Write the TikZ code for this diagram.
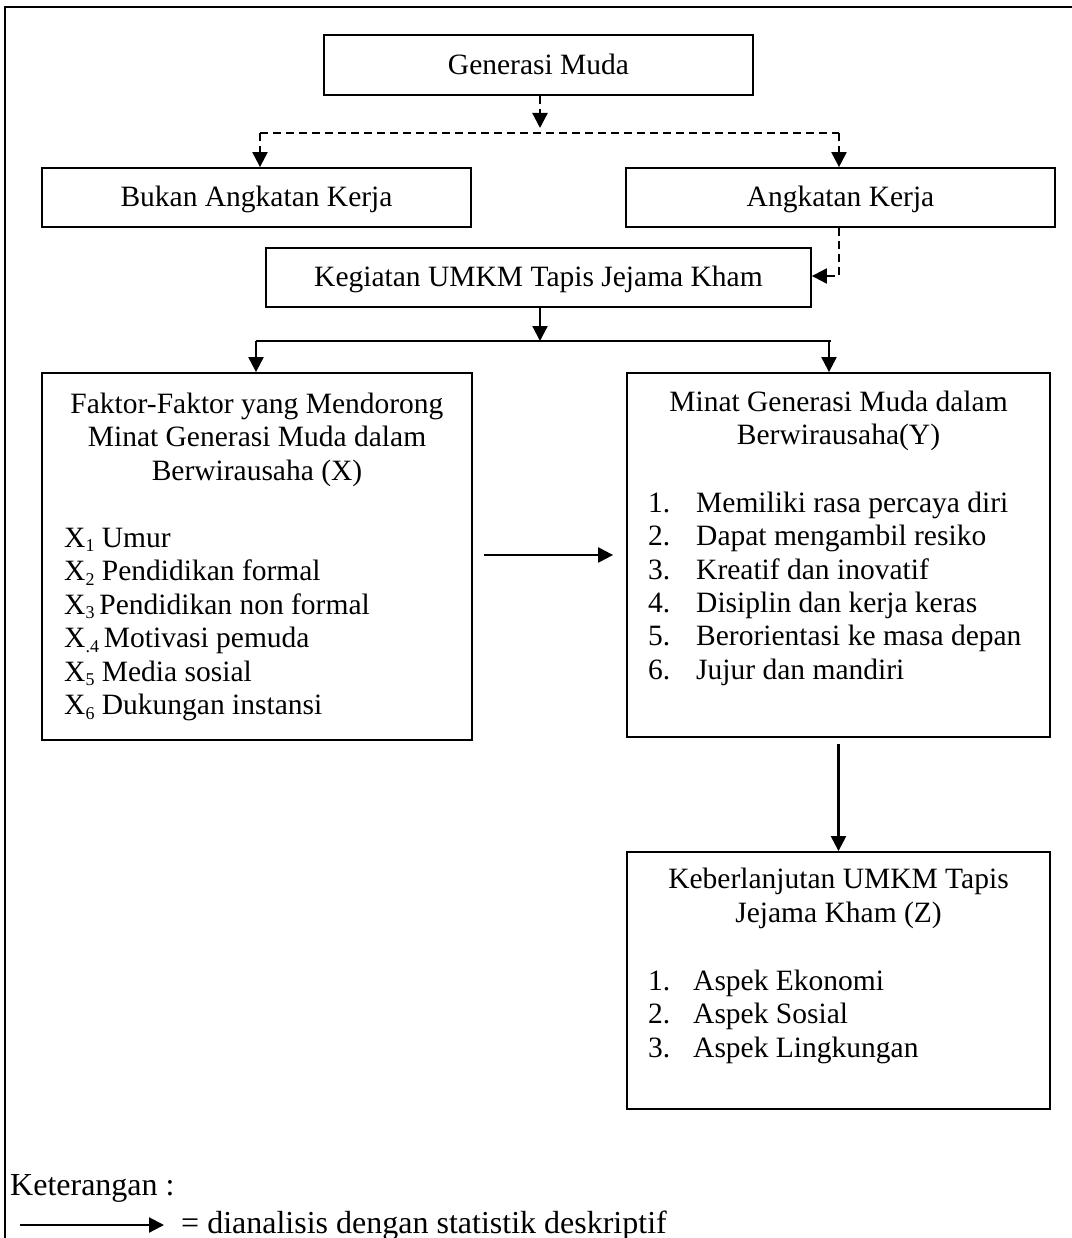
\documentclass[tikz,border=0pt]{standalone}
\usepackage{fontspec}
\setmainfont{Liberation Serif}
\usetikzlibrary{arrows.meta}
\newcommand\mysub[1]{\raisebox{-0.16em}{\fontsize{18}{18}\selectfont #1}}
\begin{document}
\begin{tikzpicture}[x=1pt,y=-1pt,
  box/.style={draw, line width=1.8pt, inner sep=0pt},
  sbox/.style={box, font=\fontsize{29.5}{33}\selectfont, text height=25pt, text depth=6pt},
  lbl/.style={inner sep=0pt, font=\fontsize{29.5}{33}\selectfont},
  leg/.style={inner sep=0pt, font=\fontsize{32}{36}\selectfont},
  conn/.style={line width=2.2pt},
  arr/.style={conn, -{Triangle[width=15pt,length=15pt]}},
  dsh/.style={dash pattern=on 8pt off 5pt},
]
\useasboundingbox (0,0) rectangle (1071,1238);

% outer frame (cut by the page at right and bottom)
\draw[line width=1.8pt] (1080,7) -- (5,7) -- (5,1245);

% simple boxes
\node[sbox, minimum width=429pt, minimum height=60pt] (gm)  at (538.5,65)    {Generasi Muda};
\node[sbox, minimum width=429pt, minimum height=59pt] (bak) at (256.5,197.5) {Bukan Angkatan Kerja};
\node[sbox, minimum width=429pt, minimum height=59pt] (ak)  at (840.5,197.5) {Angkatan Kerja};
\node[sbox, minimum width=545pt, minimum height=59pt] (keg) at (538.5,277.5) {Kegiatan UMKM Tapis Jejama Kham};

% list boxes
\node[box, minimum width=430pt, minimum height=367pt] (fak) at (257,556.5) {};
\node[box, minimum width=423pt, minimum height=364pt] (min) at (838.5,555) {};
\node[box, minimum width=423pt, minimum height=257pt] (keb) at (838.5,980.5) {};

% Faktor box text
\node[lbl, anchor=base] (fh1) at (257,413)   {Faktor-Faktor yang Mendorong};
\node[lbl, anchor=base] (fh2) at (257,446.5) {Minat Generasi Muda dalam};
\node[lbl, anchor=base] (fh3) at (257,480)   {Berwirausaha (X)};
\node[lbl, anchor=base west] (fx1) at (64,547)   {X\mysub{1} Umur};
\node[lbl, anchor=base west] (fx2) at (64,580.5) {X\mysub{2} Pendidikan formal};
\node[lbl, anchor=base west] (fx3) at (64,614)   {X\mysub{3}\,Pendidikan non formal};
\node[lbl, anchor=base west] (fx4) at (64,647.5) {X\mysub{.4}\,Motivasi pemuda};
\node[lbl, anchor=base west] (fx5) at (64,681)   {X\mysub{5} Media sosial};
\node[lbl, anchor=base west] (fx6) at (64,714.5) {X\mysub{6} Dukungan instansi};

% Minat box text
\node[lbl, anchor=base] (mh1) at (838.5,411) {Minat Generasi Muda dalam};
\node[lbl, anchor=base] (mh2) at (838.5,444) {Berwirausaha(Y)};
\node[lbl, anchor=base west] (mn1) at (648,512)   {1.};
\node[lbl, anchor=base west] (mn2) at (648,545.5) {2.};
\node[lbl, anchor=base west] (mn3) at (648,579)   {3.};
\node[lbl, anchor=base west] (mn4) at (648,612)   {4.};
\node[lbl, anchor=base west] (mn5) at (648,645.5) {5.};
\node[lbl, anchor=base west] (mn6) at (648,679)   {6.};
\node[lbl, anchor=base west] (mt1) at (696,512)   {Memiliki rasa percaya diri};
\node[lbl, anchor=base west] (mt2) at (696,545.5) {Dapat mengambil resiko};
\node[lbl, anchor=base west] (mt3) at (696,579)   {Kreatif dan inovatif};
\node[lbl, anchor=base west] (mt4) at (696,612)   {Disiplin dan kerja keras};
\node[lbl, anchor=base west] (mt5) at (696,645.5) {Berorientasi ke masa depan};
\node[lbl, anchor=base west] (mt6) at (696,679)   {Jujur dan mandiri};

% Keberlanjutan box text
\node[lbl, anchor=base] (kh1) at (838.5,888) {Keberlanjutan UMKM Tapis};
\node[lbl, anchor=base] (kh2) at (838.5,922) {Jejama Kham (Z)};
\node[lbl, anchor=base west] (kn1) at (648,990)    {1.};
\node[lbl, anchor=base west] (kn2) at (648,1023.5) {2.};
\node[lbl, anchor=base west] (kn3) at (648,1057)   {3.};
\node[lbl, anchor=base west] (kt1) at (693,990)    {Aspek Ekonomi};
\node[lbl, anchor=base west] (kt2) at (693,1023.5) {Aspek Sosial};
\node[lbl, anchor=base west] (kt3) at (693,1057)   {Aspek Lingkungan};

% dashed connectors
\coordinate (d1) at (540,133);
\coordinate (dl) at (260,133);
\coordinate (dr) at (839,133);
\draw[arr, dsh, shorten >=5pt] (gm.south -| d1) -- (d1);
\draw[conn, dsh] (dl) -- (dr);
\draw[arr, dsh] (dl) -- (dl |- bak.north);
\draw[arr, dsh] (dr) -- (dr |- ak.north);
\coordinate (ka) at (839,276);
\draw[arr, dsh] (ak.south -| ka) -- (ka) -- (keg.east |- ka);

% solid connectors
\coordinate (s2) at (540,341);
\coordinate (sl) at (256,341);
\coordinate (sr) at (831,341);
\coordinate (sr2) at (829,341);
\draw[arr] (keg.south -| s2) -- (s2);
\draw[conn] (sl) -- (sr);
\draw[arr] (sl) -- (sl |- fak.north);
\draw[arr] (sr2) -- (sr2 |- min.north);
\draw[arr, shorten <=11pt, shorten >=13pt] (fak.east |- min.west) -- (min.west);
\draw[arr, shorten <=6pt] (min.south) -- (keb.north);

% legend
\node[leg, anchor=base west] (ket) at (10,1195) {Keterangan :};
\coordinate (la) at (20,1225);
\coordinate (lb) at (164,1225);
\draw[arr] (la) -- (lb);
\node[leg, anchor=base west] (legtxt) at (181,1233) {= dianalisis dengan statistik deskriptif};
\end{tikzpicture}
\end{document}
